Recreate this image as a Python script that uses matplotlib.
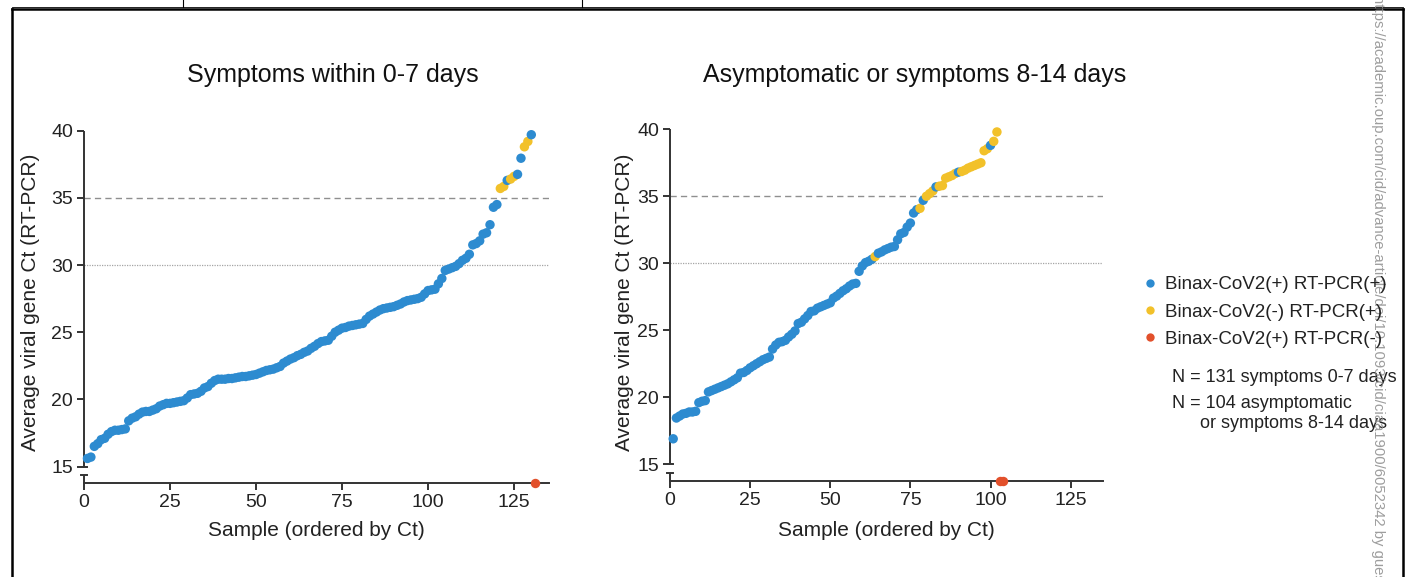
import matplotlib
matplotlib.use("Agg")
import matplotlib.pyplot as plt
from matplotlib.lines import Line2D

plt.rcParams['font.family'] = ['Liberation Sans', 'DejaVu Sans']

BLUE = '#2d8bd0'
YELLOW = '#f2c12a'
RED = '#e2502b'
AXC = '#333333'

# symptoms 0-7 days: average Ct of RT-PCR positive samples, sorted
early_ct = [15.6, 15.7, 16.5, 16.7, 17.0, 17.1, 17.4, 17.6, 17.7, 17.7,
            17.75, 17.8, 18.4, 18.6, 18.7, 18.9, 19.05, 19.1, 19.1, 19.2,
            19.3, 19.5, 19.6, 19.7, 19.7, 19.75, 19.8, 19.85, 19.9, 20.1,
            20.35, 20.4, 20.45, 20.6, 20.85, 20.95, 21.2, 21.4, 21.5, 21.5,
            21.5, 21.55, 21.55, 21.6, 21.65, 21.7, 21.7, 21.75, 21.8, 21.85,
            21.95, 22.05, 22.15, 22.2, 22.25, 22.35, 22.45, 22.7, 22.85, 23.0,
            23.1, 23.25, 23.35, 23.5, 23.6, 23.8, 23.95, 24.15, 24.3, 24.35,
            24.4, 24.7, 25.0, 25.15, 25.3, 25.35, 25.45, 25.5, 25.55, 25.6,
            25.65, 25.95, 26.2, 26.35, 26.5, 26.65, 26.75, 26.8, 26.85, 26.9,
            27.0, 27.1, 27.25, 27.35, 27.4, 27.45, 27.5, 27.6, 27.85, 28.1,
            28.15, 28.2, 28.6, 29.0, 29.6, 29.7, 29.8, 29.9, 30.1, 30.35,
            30.5, 30.8, 31.5, 31.6, 31.8, 32.3, 32.4, 33.0, 34.3, 34.5,
            35.7, 35.85, 36.3, 36.4, 36.6, 36.75, 37.95, 38.8, 39.2, 39.7]
# sample numbers that were Binax-CoV2(-)
early_binax_neg = [121, 122, 124, 125, 128, 129]
# Binax-CoV2(+) but RT-PCR(-), no Ct
early_pcr_neg = [131]

# asymptomatic or symptoms 8-14 days
late_ct = [16.9, 18.45, 18.6, 18.75, 18.8, 18.9, 18.9, 18.95, 19.6, 19.7,
           19.75, 20.4, 20.5, 20.6, 20.7, 20.8, 20.9, 21.0, 21.15, 21.3,
           21.45, 21.8, 21.85, 22.0, 22.2, 22.35, 22.5, 22.65, 22.8, 22.9,
           23.0, 23.6, 23.9, 24.1, 24.15, 24.25, 24.5, 24.7, 24.95, 25.5,
           25.6, 25.85, 26.1, 26.4, 26.45, 26.65, 26.75, 26.85, 26.95, 27.05,
           27.4, 27.55, 27.75, 27.95, 28.1, 28.3, 28.45, 28.5, 29.4, 29.8,
           30.05, 30.15, 30.3, 30.5, 30.75, 30.85, 31.0, 31.1, 31.2, 31.25,
           31.75, 32.2, 32.3, 32.7, 33.0, 33.75, 34.0, 34.1, 34.7, 35.0,
           35.2, 35.4, 35.7, 35.75, 35.8, 36.35, 36.45, 36.55, 36.7, 36.8,
           36.85, 36.95, 37.1, 37.2, 37.3, 37.4, 37.5, 38.4, 38.55, 38.8,
           39.1, 39.8]
late_binax_neg = [64, 78, 80, 81, 82, 84, 85, 86, 87, 88, 89, 91, 92, 93,
                  94, 95, 96, 97, 98, 99, 101, 102]
late_pcr_neg = [103, 104]

titles = ['Symptoms within 0-7 days', 'Asymptomatic or symptoms 8-14 days']
xticks = [0, 25, 50, 75, 100, 125]
yticks = [15, 20, 25, 30, 35, 40]

W, H = 1407, 577
YMIN, YMAX = 13.75, 40.2
DOT = 46


def fx(px):
    return px / W


def fy(py):
    return 1 - py / H


fig = plt.figure(figsize=(W / 100, H / 100), dpi=100)
fig.patch.set_facecolor('white')


def panel(rect, ct, binax_neg, pcr_neg):
    ax = fig.add_axes(rect)
    ax.set_xlim(0, 135)
    ax.set_ylim(YMIN, YMAX)

    ax.axhline(35, color='#8f8f8f', lw=1.0, ls=(0, (4.5, 3)), zorder=1)
    ax.axhline(30, color='#a5a5a5', lw=0.9, ls=(0, (1, 1)), zorder=1)

    xs = list(range(1, len(ct) + 1))
    cols = [YELLOW if i in binax_neg else BLUE for i in xs]
    ax.scatter(xs, ct, s=DOT, c=cols, linewidths=0, zorder=3, clip_on=False)
    ax.scatter(pcr_neg, [YMIN] * len(pcr_neg), s=DOT, c=RED, linewidths=0,
               zorder=4, clip_on=False)

    for sp in ['top', 'right', 'left']:
        ax.spines[sp].set_visible(False)
    ax.spines['bottom'].set_color(AXC)
    ax.spines['bottom'].set_linewidth(1.4)

    # broken y axis: main part 15-40, short stub down to the x axis
    ax.plot([0, 0], [15, 40], color=AXC, lw=1.4, clip_on=False,
            solid_capstyle='butt', zorder=2)
    ax.plot([0, 0], [YMIN, 14.35], color=AXC, lw=1.4, clip_on=False,
            solid_capstyle='butt', zorder=2)
    ax.plot([-0.9, 0.9], [14.35, 14.35], color=AXC, lw=1.4, clip_on=False)
    ax.plot([0, 0.9], [15, 15], color=AXC, lw=1.4, clip_on=False)

    ax.set_xticks(xticks)
    ax.set_yticks(yticks)
    ax.tick_params(axis='both', direction='out', length=5, width=1.4,
                   color=AXC, labelsize=14, labelcolor='#222222', pad=3)
    return ax


ax1 = panel([fx(84), fy(483.3), fx(548.5) - fx(84), fy(128) - fy(483.3)],
            early_ct, early_binax_neg, early_pcr_neg)
ax2 = panel([fx(670), fy(481), fx(1102.7) - fx(670), fy(126.6) - fy(481)],
            late_ct, late_binax_neg, late_pcr_neg)

# titles and axis labels
fig.text(fx(333), fy(75), titles[0], ha='center', va='center',
         fontsize=18, color='#111111')
fig.text(fx(915), fy(75), titles[1], ha='center', va='center',
         fontsize=18, color='#111111')
for ax, lx, cx in [(ax1, 31, 316), (ax2, 625, 886)]:
    fig.text(fx(lx), fy(302), 'Average viral gene Ct (RT-PCR)', rotation=90,
             ha='center', va='center', fontsize=15, color='#222222')
    fig.text(fx(cx), fy(530), 'Sample (ordered by Ct)', ha='center',
             va='center', fontsize=15, color='#222222')

# legend
handles = [Line2D([], [], ls='none', marker='o', ms=6, mec='none', mfc=c)
           for c in (BLUE, YELLOW, RED)]
labels = ['Binax-CoV2(+) RT-PCR(+)', 'Binax-CoV2(-) RT-PCR(+)',
          'Binax-CoV2(+) RT-PCR(-)']
fig.legend(handles, labels, loc='upper left',
           bbox_to_anchor=(fx(1142), fy(276)), frameon=False, fontsize=13.5,
           handlelength=0.8, handletextpad=0.45, labelspacing=0.55,
           borderpad=0, borderaxespad=0, labelcolor='#222222')
fig.text(fx(1172), fy(377), 'N = 131 symptoms 0-7 days', ha='left',
         va='center', fontsize=13, color='#222222')
fig.text(fx(1172), fy(404), 'N = 104 asymptomatic', ha='left',
         va='center', fontsize=13, color='#222222')
fig.text(fx(1200), fy(424), 'or symptoms 8-14 days', ha='left',
         va='center', fontsize=13, color='#222222')

# page frame and download stamp
frame = dict(color='black', transform=fig.transFigure, clip_on=False)
fig.add_artist(Line2D([fx(12), fx(12)], [fy(9), 0], lw=1.8, **frame))
fig.add_artist(Line2D([fx(12), fx(1403)], [fy(9), fy(9)], lw=1.8, **frame))
fig.add_artist(Line2D([fx(1403), fx(1403)], [fy(9), 0], lw=1.8, **frame))
fig.add_artist(Line2D([fx(12), fx(1403)], [fy(6.5), fy(6.5)], lw=0.6, **frame))
fig.add_artist(Line2D([fx(183), fx(183)], [1, fy(7)], lw=0.8, **frame))
fig.add_artist(Line2D([fx(582), fx(582)], [1, fy(7)], lw=0.8, **frame))

fig.text(fx(1378), fy(-5), 'https://academic.oup.com/cid/advance-article/doi/'
         '10.1093/cid/ciaa1900/6052342 by guest on 19 January 2021',
         rotation=-90, ha='center', va='top', fontsize=10.7, color='#8c8c8c',
         alpha=0.85)

fig.savefig('out.png', dpi=100, facecolor='white')
